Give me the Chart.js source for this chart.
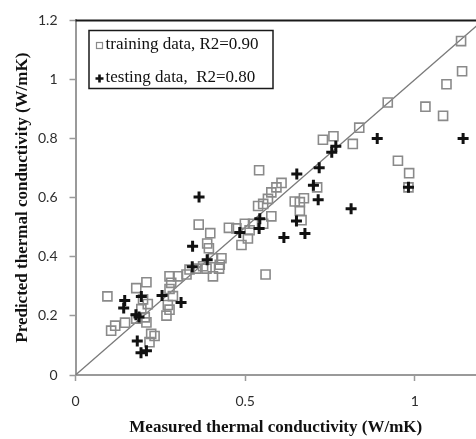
<!DOCTYPE html>
<html>
<head>
<meta charset="utf-8">
<title>Predicted vs measured thermal conductivity</title>
<script src="https://cdn.jsdelivr.net/npm/chart.js"></script>
<style>
  html, body { margin: 0; padding: 0; background: #fff; }
  #wrap { width: 476px; height: 439px; }
</style>
</head>
<body>
<div id="wrap"><canvas id="kChart" width="476" height="439"></canvas></div>
<script>
// measured (x) vs predicted (y) thermal conductivity, W/mK
const trainX = [1.136, 1.139, 1.093, 0.920, 1.031, 1.083, 0.836, 0.729, 0.760, 0.817,
  0.950, 0.983, 0.981, 0.541, 0.607, 0.592, 0.577, 0.567, 0.553, 0.538,
  0.646, 0.661, 0.673, 0.661, 0.666, 0.712, 0.577, 0.363, 0.397, 0.452,
  0.474, 0.499, 0.513, 0.523, 0.489, 0.508, 0.553, 0.388, 0.393, 0.405,
  0.430, 0.425, 0.423, 0.405, 0.376, 0.356, 0.386, 0.560, 0.302, 0.094,
  0.105, 0.117, 0.146, 0.179, 0.179, 0.209, 0.199, 0.213, 0.204, 0.209,
  0.194, 0.223, 0.233, 0.218, 0.277, 0.282, 0.277, 0.287, 0.272, 0.277,
  0.268, 0.336, 0.327];
const trainY = [1.130, 1.028, 0.984, 0.922, 0.908, 0.877, 0.837, 0.796, 0.808, 0.782,
  0.725, 0.683, 0.635, 0.693, 0.650, 0.635, 0.618, 0.596, 0.579, 0.572,
  0.587, 0.585, 0.598, 0.556, 0.524, 0.635, 0.537, 0.509, 0.480, 0.498,
  0.496, 0.512, 0.490, 0.512, 0.440, 0.462, 0.512, 0.445, 0.429, 0.395,
  0.395, 0.373, 0.360, 0.334, 0.368, 0.360, 0.360, 0.340, 0.334, 0.266,
  0.150, 0.167, 0.177, 0.191, 0.294, 0.314, 0.256, 0.240, 0.195, 0.178,
  0.223, 0.139, 0.132, 0.111, 0.334, 0.312, 0.291, 0.267, 0.237, 0.221,
  0.201, 0.357, 0.340];

const testX = [0.889, 1.142, 0.767, 0.755, 0.718, 0.652, 0.701, 0.715, 0.812, 0.981,
  0.651, 0.676, 0.614, 0.543, 0.541, 0.484, 0.364, 0.345, 0.388, 0.344,
  0.311, 0.255, 0.194, 0.145, 0.142, 0.178, 0.187, 0.182, 0.193, 0.209];
const testY = [0.800, 0.800, 0.774, 0.754, 0.701, 0.680, 0.642, 0.593, 0.563, 0.635,
  0.521, 0.479, 0.465, 0.529, 0.496, 0.482, 0.602, 0.436, 0.390, 0.366,
  0.245, 0.269, 0.266, 0.252, 0.227, 0.204, 0.196, 0.115, 0.075, 0.082];

const trainLabel = 'training data, R2=0.90';
const testLabel = 'testing data,  R2=0.80';

// ends of the y = x line
const idealLine = [0, 1.2];

const xTicks = [0, 0.5, 1];
const yTicks = [0, 0.2, 0.4, 0.6, 0.8, 1, 1.2];

function toPoints(xs, ys) {
  return xs.map((x, i) => ({ x: x, y: ys[i] }));
}

// plain labels: 0, 0.5, 1 (no trailing zeros)
const plainNum = (v) => String(Math.round(v * 100) / 100);

// black top edge of the plot + the boxed legend
const frameAndLegend = {
  id: 'frameAndLegend',
  afterDatasetsDraw(chart) {
    const ctx = chart.ctx;
    const area = chart.chartArea;
    ctx.save();
    ctx.strokeStyle = '#1a1a1a';
    ctx.lineWidth = 2;
    ctx.beginPath();
    ctx.moveTo(area.left, area.top);
    ctx.lineTo(area.right, area.top);
    ctx.stroke();

    const bx = 89, by = 30.5, bw = 184, bh = 58;
    ctx.fillStyle = '#fff';
    ctx.fillRect(bx, by, bw, bh);
    ctx.lineWidth = 1.5;
    ctx.strokeRect(bx, by, bw, bh);

    const sets = chart.data.datasets;
    const rows = [sets[1], sets[0]];
    ctx.font = '17px "Liberation Serif", "Times New Roman", serif';
    ctx.textBaseline = 'middle';
    ctx.textAlign = 'left';
    rows.forEach((ds, i) => {
      const cy = by + 15 + i * 33;
      if (ds.pointStyle === 'rect') {
        ctx.strokeStyle = ds.borderColor;
        ctx.lineWidth = 1.2;
        ctx.strokeRect(96.5, cy - 3, 6, 6);
      } else {
        ctx.strokeStyle = ds.borderColor;
        ctx.lineWidth = 2.6;
        ctx.beginPath();
        ctx.moveTo(95.5, cy); ctx.lineTo(103.5, cy);
        ctx.moveTo(99.5, cy - 4); ctx.lineTo(99.5, cy + 4);
        ctx.stroke();
      }
      ctx.fillStyle = '#111';
      ctx.fillText(ds.label, 105.5, cy - 1);
    });
    ctx.restore();
  }
};

const tickFont = { family: 'Lato, "Open Sans", sans-serif', size: 14 };
const titleFont = { family: '"Liberation Serif", "Times New Roman", serif', size: 17, weight: 'bold' };

new Chart(document.getElementById('kChart'), {
  type: 'scatter',
  data: {
    datasets: [
      {
        label: testLabel,
        data: toPoints(testX, testY),
        pointStyle: 'cross',
        pointRadius: 5.5,
        pointBorderWidth: 3,
        borderColor: '#111',
        backgroundColor: '#111',
        order: 0
      },
      {
        label: trainLabel,
        data: toPoints(trainX, trainY),
        pointStyle: 'rect',
        pointRadius: 6.4,
        pointBorderWidth: 1.6,
        borderColor: '#8a8a8a',
        backgroundColor: 'rgba(255,255,255,0)',
        order: 1
      },
      {
        type: 'line',
        label: 'y = x',
        data: toPoints(idealLine, idealLine),
        borderColor: '#7a7a7a',
        borderWidth: 1.3,
        pointRadius: 0,
        order: 2
      }
    ]
  },
  options: {
    responsive: false,
    animation: false,
    layout: { autoPadding: false, padding: { top: 16, right: 0, left: 0, bottom: 0 } },
    plugins: {
      legend: { display: false },
      tooltip: { enabled: false }
    },
    scales: {
      x: {
        type: 'linear',
        min: 0,
        max: 1.18,
        afterBuildTicks: (scale) => { scale.ticks = xTicks.map(v => ({ value: v })); },
        afterFit: (scale) => { scale.height = 64; },
        border: { display: true, color: '#9a9a9a', width: 2 },
        grid: { display: true, drawOnChartArea: false, drawTicks: true, tickLength: 6, tickColor: '#9a9a9a', tickWidth: 1.5 },
        ticks: { font: tickFont, color: '#2e2e2e', padding: 12, maxRotation: 0, callback: plainNum },
        title: { display: true, text: 'Measured thermal conductivity (W/mK)', font: titleFont, color: '#111', padding: { top: 0, bottom: 1 } }
      },
      y: {
        type: 'linear',
        min: 0,
        max: 1.2,
        afterBuildTicks: (scale) => { scale.ticks = yTicks.map(v => ({ value: v })); },
        afterFit: (scale) => { scale.width = 75.5; },
        border: { display: true, color: '#9a9a9a', width: 2 },
        grid: { display: true, drawOnChartArea: false, drawTicks: true, tickLength: 6, tickColor: '#9a9a9a', tickWidth: 1.5 },
        ticks: { font: tickFont, color: '#2e2e2e', padding: 12, callback: plainNum },
        title: { display: true, text: 'Predicted thermal conductivity (W/mK)', font: titleFont, color: '#111', padding: { top: 12, bottom: 0 } }
      }
    }
  },
  plugins: [frameAndLegend]
});
</script>
</body>
</html>
